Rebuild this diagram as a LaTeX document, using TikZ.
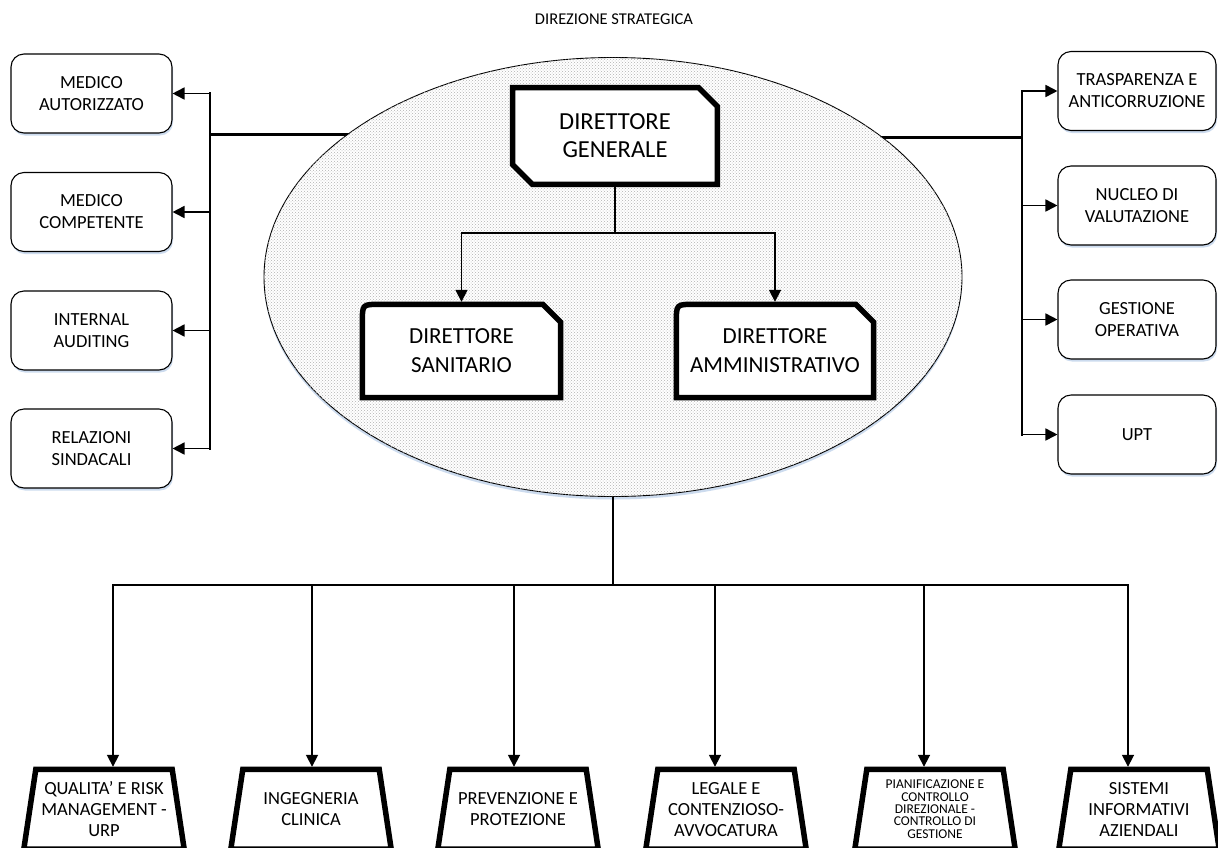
\documentclass[tikz,border=0pt]{standalone}
\usepackage{fontspec}
\setmainfont{Carlito}
\usetikzlibrary{arrows.meta,patterns,shapes.geometric,shadows,calc}
\pgfdeclarelayer{wires}
\pgfdeclarelayer{back}
\pgfdeclarelayer{frames}
\pgfsetlayers{wires,back,frames,main}
\definecolor{shadowblue}{RGB}{204,219,238}

\begin{document}
\begin{tikzpicture}[x=1pt,y=-1pt,
  arrowtip/.style={-{Triangle[length=12pt,width=12pt]}},
  wire/.style={line width=1.7pt},
  link/.style={wire, arrowtip},
  buswire/.style={line width=2.1pt, line cap=rect},
  heavywire/.style={line width=3pt},
  sidebox/.style={draw, line width=1.1pt, rounded corners=13pt, fill=white,
    minimum width=161pt, minimum height=79pt, align=center, inner sep=2pt,
    font=\fontsize{18.5}{22}\selectfont,
    drop shadow={shadow xshift=1pt, shadow yshift=-2.5pt, fill=shadowblue, opacity=1}},
  rightbox/.style={sidebox, minimum width=158pt},
  textonly/.style={align=center, inner sep=0pt},
  frame/.style={draw, fill=white, line width=5.5pt, line join=miter},
  trapbox/.style={textonly, minimum width=136pt, minimum height=79.5pt,
    font=\fontsize{18.5}{21}\selectfont},
]
\useasboundingbox (0,0) rectangle (1218,847);

% heading
\node[textonly, font=\fontsize{16.5}{19}\selectfont] (title) at (614,19) {DIREZIONE STRATEGICA};

% strategic direction area
\begin{pgfonlayer}{back}
\node[ellipse, draw, line width=0.9pt, minimum width=698pt, minimum height=439pt,
  inner sep=0pt, fill=white, postaction={pattern=crosshatch dots, pattern color=gray!60},
  drop shadow={shadow xshift=0pt, shadow yshift=-3pt, fill=shadowblue, opacity=1}]
  (ell) at (613,277) {};
\end{pgfonlayer}

% directors
\node[textonly, font=\fontsize{24.5}{28}\selectfont, minimum width=204.5pt, minimum height=96.5pt]
  (dg) at (615,136) {DIRETTORE\\GENERALE};
\node[textonly, font=\fontsize{23}{29}\selectfont, minimum width=198pt, minimum height=93pt]
  (ds) at (461.5,351) {DIRETTORE\\SANITARIO};
\node[textonly, font=\fontsize{23}{29}\selectfont, minimum width=197pt, minimum height=93pt]
  (da) at (775,351) {DIRETTORE\\AMMINISTRATIVO};

\begin{pgfonlayer}{frames}
\path[frame] (dg.north west) -- ($(dg.north east)+(-19,0)$) -- ($(dg.north east)+(0,19)$)
  -- (dg.south east) -- ($(dg.south west)+(20,0)$) -- ($(dg.south west)+(0,-20)$) -- cycle;
\foreach \n in {ds,da}{
  \path[frame] (\n.south west) -- ($(\n.north west)+(0,18)$)
    .. controls (\n.north west) .. ($(\n.north west)+(18,0)$)
    -- ($(\n.north east)+(-18,0)$) -- ($(\n.north east)+(0,18)$) -- (\n.south east) -- cycle;
}
\end{pgfonlayer}

\coordinate (split) at (615,233);
\draw[wire] (dg.south) -- (split);
\draw[link, shorten >=2.5pt] (split) -| (ds.north);
\draw[link, shorten >=2.5pt] (split) -| (da.north);

% staff offices on the left
\node[sidebox] (l1) at (91.5,93.5) {MEDICO\\AUTORIZZATO};
\node[sidebox] (l2) at (91.5,212) {MEDICO\\COMPETENTE};
\node[sidebox] (l3) at (91.5,330.5) {INTERNAL\\AUDITING};
\node[sidebox] (l4) at (91.5,448.5) {RELAZIONI\\SINDACALI};

\coordinate (lbx) at (210,0);
\coordinate (lj) at (210,134);
\draw[buswire] (l1 -| lbx) -- (l4 -| lbx);
\foreach \i in {1,...,4} \draw[link] (l\i -| lbx) -- (l\i.east);

% staff offices on the right
\node[rightbox] (r1) at (1137,91) {TRASPARENZA E\\ANTICORRUZIONE};
\node[rightbox] (r2) at (1137,205.5) {NUCLEO DI\\VALUTAZIONE};
\node[rightbox] (r3) at (1137,319.5) {GESTIONE\\OPERATIVA};
\node[rightbox] (r4) at (1137,434.5) {UPT};

\coordinate (rbx) at (1022,0);
\coordinate (rj) at (1022,137);
\draw[buswire] (r1 -| rbx) -- (r4 -| rbx);
\foreach \i in {1,...,4} \draw[link] (r\i -| rbx) -- (r\i.west);

% links from the side buses into the area
\begin{pgfonlayer}{wires}
\draw[heavywire] (lj) -- (lj -| ell.center);
\draw[heavywire] (rj) -- (rj -| ell.center);
\end{pgfonlayer}

% departments below
\node[trapbox] (t1) at (104,809.25) {QUALITA’ E RISK\\MANAGEMENT -\\URP};
\node[trapbox] (t2) at (311,809.25) {INGEGNERIA\\CLINICA};
\node[trapbox] (t3) at (518,809.25) {PREVENZIONE E\\PROTEZIONE};
\node[trapbox] (t4) at (726,809.25) {LEGALE E\\CONTENZIOSO-\\AVVOCATURA};
\node[trapbox, font=\fontsize{13.5}{12.4}\selectfont] (t5) at (935,809.25)
  {PIANIFICAZIONE E\\CONTROLLO\\DIREZIONALE -\\CONTROLLO DI\\GESTIONE};
\node[trapbox] (t6) at (1139,809.25) {SISTEMI\\INFORMATIVI\\AZIENDALI};

\begin{pgfonlayer}{frames}
\foreach \i in {1,...,6}{
  \path[frame] (t\i.north west) -- (t\i.north east) -- ($(t\i.south east)+(12,0)$)
    -- ($(t\i.south west)+(-12,0)$) -- cycle;
}
\end{pgfonlayer}

\coordinate (a1) at (113,585);
\coordinate (a2) at (312,585);
\coordinate (a3) at (514,585);
\coordinate (a4) at (715,585);
\coordinate (a5) at (924,585);
\coordinate (a6) at (1128,585);
\draw[wire, line width=2pt] (ell.south) -- (ell.south |- a1);
\draw[buswire] (a1) -- (a6);
\foreach \i in {1,...,6} \draw[link, shorten >=2.5pt] (a\i) -- (a\i |- t\i.north);
\end{tikzpicture}
\end{document}
